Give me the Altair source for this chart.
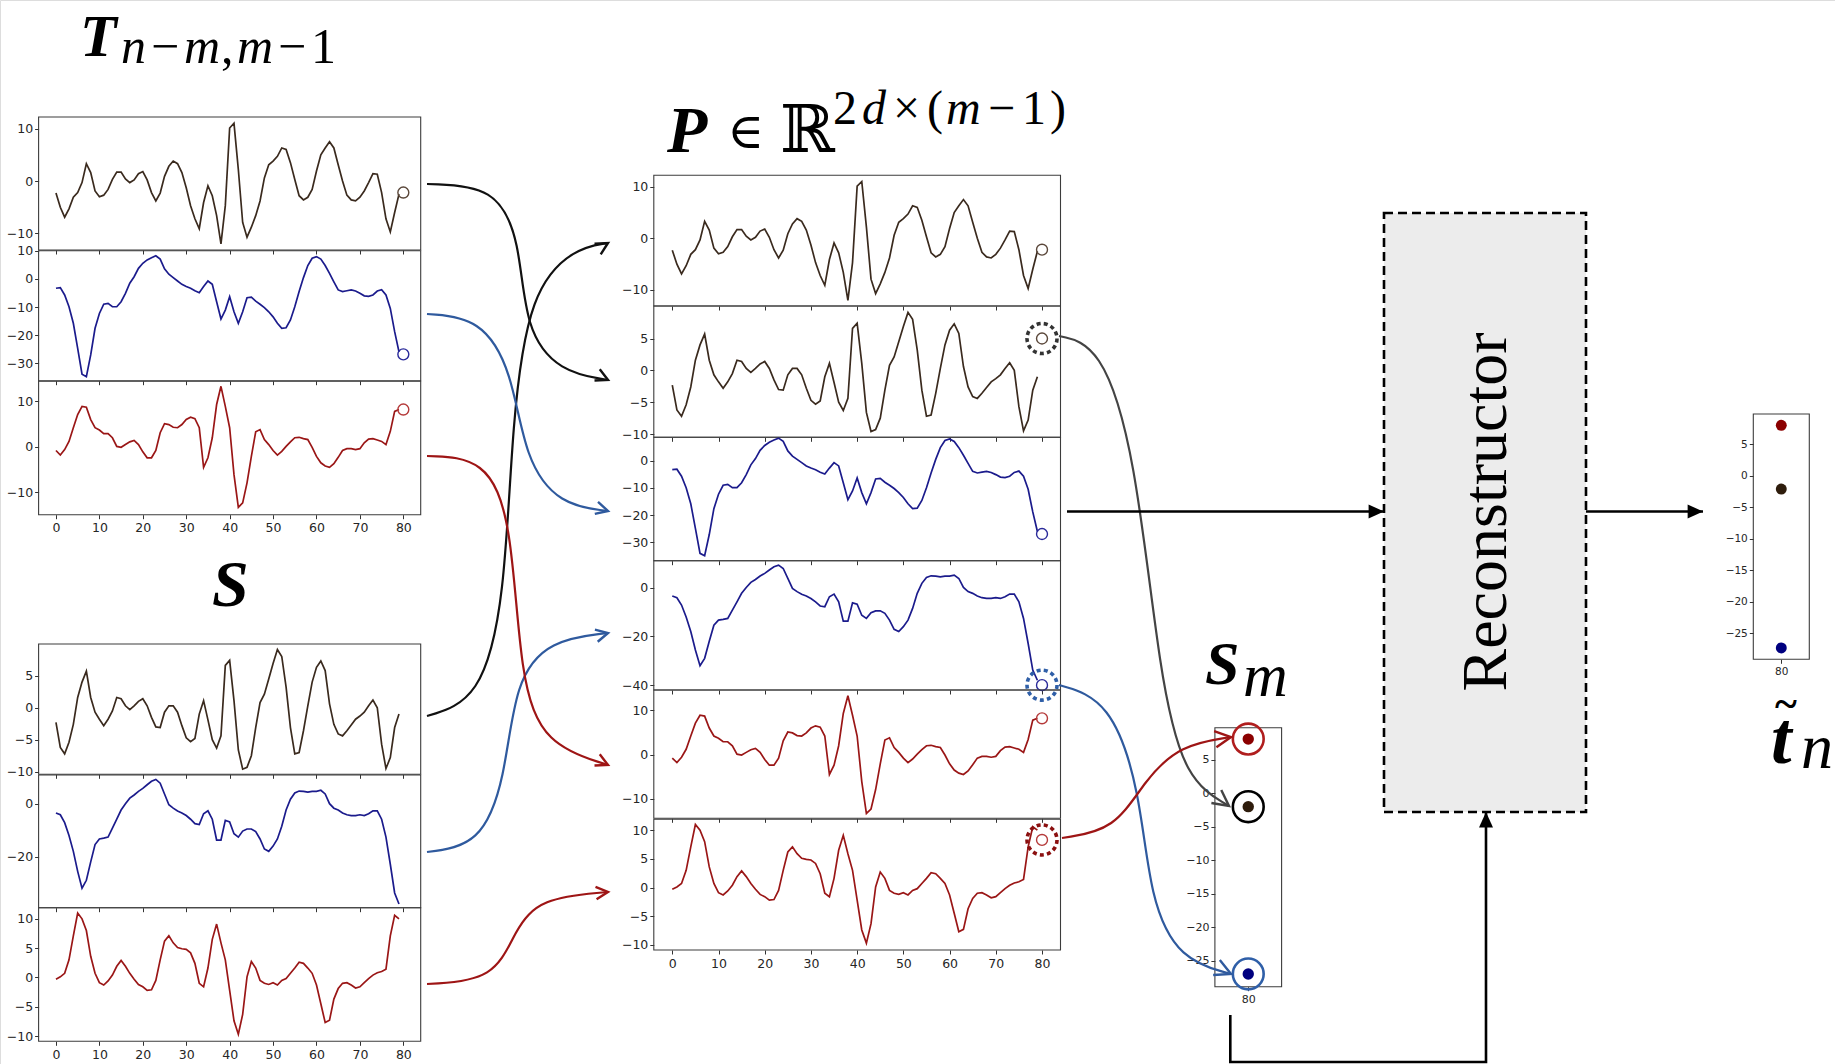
import altair as alt
import pandas as pd

W, H = 1835, 1064

# ---------------- chart values ----------------
X_TICKS = [0, 10, 20, 30, 40, 50, 60, 70, 80]
FORECAST_X = 80

T_BROWN = [-2.3, -5, -6.9, -5.3, -3.1, -2.2, -0.3, 3.3, 1.6, -1.9,
           -3, -2.7, -1.6, 0.3, 1.7, 1.7, 0.4, -0.3, 0.2, 1.4,
           1.8, 0.2, -2.2, -3.8, -2.3, 0.9, 2.8, 3.8, 3.3, 1.6,
           -1.3, -4.7, -7.2, -9.1, -4.1, -0.9, -2.8, -6.6, -12, -4.7,
           10.1, 11, 2.2, -7.9, -10.7, -8.8, -6.6, -3.8, 0.6, 3.1,
           3.8, 4.7, 6.3, 6, 3.5, 0.3, -2.8, -3.6, -3.1, -1.6,
           1.9, 5, 6.3, 7.5, 6.3, 3.1, 0, -2.7, -3.6, -3.8,
           -3.1, -1.9, -0.3, 1.4, 1.3, -2.2, -7.2, -9.7, -6, -2.5]
T_BLUE = [-3.3, -3.1, -5.7, -9.9, -15.8, -24.8, -34, -34.9, -27.1, -17.6,
          -12.3, -9, -8.7, -9.9, -9.9, -8.1, -5.1, -1.5, 0.8, 3.8,
          5.6, 6.8, 7.6, 8.3, 7.1, 3.6, 1.7, 0.5, -0.7, -1.9,
          -2.7, -3.3, -4.2, -4.9, -2.7, -0.7, -1.9, -8.1, -14.3, -11.1,
          -6.3, -11.7, -15.8, -11.7, -6.7, -6.5, -7.9, -9, -10.2, -11.7,
          -13.5, -15.8, -17.6, -17.4, -14.6, -9.9, -4.5, 0.5, 4.8, 7.4,
          8, 7.1, 4.8, 2, -1, -3.9, -4.5, -4.2, -3.9, -4.3,
          -5.1, -6, -6.2, -5.7, -4.3, -3.8, -5.7, -10.5, -18.8, -26]
T_RED = [-0.8, -1.8, -0.6, 1.2, 4.2, 7.1, 8.9, 8.7, 6, 4.2,
         3.7, 2.9, 2.9, 2, 0.1, -0.1, 0.5, 1.1, 1.4, 0.5,
         -1.1, -2.4, -2.4, -0.8, 3.1, 5.1, 4.9, 4.3, 4.2, 4.9,
         6, 6.5, 6.2, 4.2, -4.5, -2.4, 2, 9.3, 13.3, 8.9,
         4.2, -6.1, -13.3, -12.3, -7.9, -2.1, 3.3, 3.8, 1.6, 0.5,
         -0.8, -1.8, -1, 0.1, 1.1, 2, 2.1, 1.8, 1.6, -0.1,
         -2.1, -3.5, -4.2, -4.5, -3.7, -2.3, -0.8, -0.4, -0.4, -0.6,
         -0.4, 0.9, 1.7, 1.8, 1.5, 1.2, 0.5, 3.4, 7.8, 8.2]
T_LAST = {"brown": -2.2, "blue": -26.9, "red": 8.2}

S_BROWN = [-2.3, -6.2, -7.2, -5.4, -2.6, 1.6, 4.0, 5.7, 1.6, -0.7,
           -1.8, -2.8, -1.8, -0.5, 1.6, 1.4, 0.3, -0.3, 0.3, 1.0,
           1.4, 0.3, -1.5, -3.0, -3.1, -0.7, 0.3, 0.3, -0.7, -2.8,
           -4.7, -5.3, -4.8, -1.0, 1.1, -1.9, -5.0, -6.3, -4.4, 6.6,
           7.4, 1.1, -6.6, -9.6, -9.3, -7.5, -3.1, 0.8, 2.1, 4.5,
           6.9, 9.1, 8.0, 3.2, -3.1, -7.2, -7.0, -3.6, 0.3, 4.0,
           6.3, 7.3, 5.8, 0.6, -2.6, -4.1, -4.4, -3.6, -2.7, -1.8,
           -1.3, -0.7, 0.3, 1.2, 0.0, -5.7, -9.5, -7.8, -3.1, -1.0]
S_BLUE = [-3.4, -4.1, -7.1, -12, -18, -25.6, -32, -29, -22, -15.4,
          -13.3, -13, -12.6, -9.2, -5.8, -2.3, 0.1, 2.2, 3.4, 4.8,
          5.9, 7.3, 8.6, 9.3, 7.9, 3.8, -0.3, -1.6, -2.7, -3.4,
          -4.4, -5.8, -7.5, -7.8, -3.7, -2.6, -5.8, -13.7, -13.7, -6.2,
          -6.8, -11.3, -12.6, -10.3, -9.5, -9.5, -10.5, -13.3, -17.1, -18,
          -16, -13.3, -8.5, -2.3, 1.8, 4.2, 4.9, 4.8, 4.5, 4.8,
          4.8, 5.2, 3.8, 0.1, -1.6, -2.3, -3.4, -4.1, -4.4, -4.4,
          -4.1, -4.4, -3.7, -2.6, -2.6, -5.8, -12.6, -22.9, -33.8, -38]
S_RED = [-0.3, 0.1, 0.7, 3, 7.1, 11, 10, 8, 3.6, 0.7,
         -0.9, -1.3, -0.6, 0.4, 1.9, 2.9, 1.9, 0.7, -0.3, -1.2,
         -1.6, -2.2, -2.1, -0.5, 3, 6.2, 7.1, 5.9, 5.1, 4.9,
         4.8, 4.2, 2.4, -1, -1.6, 1.6, 6.5, 9.1, 5.9, 3,
         -2.2, -7.4, -9.7, -6.3, 0.1, 2.7, 1.6, -0.5, -1, -1.2,
         -0.9, -1.3, -0.5, -0.2, 0.7, 1.6, 2.6, 2.4, 1.6, 0.7,
         -1.3, -4.5, -7.7, -7.3, -3.7, -1.9, -1, -0.9, -1.3, -1.8,
         -1.6, -0.9, -0.2, 0.4, 0.8, 1, 1.4, 7.1, 10.6, 10]
S_PRED = {"brown": 5.0, "blue": -40.0, "red": 8.3}

SM_KEYS = ["red", "brown", "blue"]
SM_VALUES = [8.1, -2.0, -27.0]
TN_VALUES = [8.0, -2.1, -27.3]

Y_TICKS_SMALL = [5, 0, -5, -10, -15, -20, -25]

# ---------------- styles ----------------
COL = {"brown": "#3a2a1e", "blue": "#1b1b8c", "red": "#9a1616"}
END_COL = {"brown": "#5a473a", "blue": "#2a2a9a", "red": "#b53a3a"}
DOT_COL = {"red": "#8b0000", "brown": "#2e1c0c", "blue": "#00007f"}
RING_COL = {"red": "#b01e1e", "brown": "#000000", "blue": "#2f5fa8"}
DASH_RING = {"brown": "#333333", "blue": "#2f5fa8", "red": "#8b1010"}
ARROW_COL = {"black": "#111111", "blue": "#2f5a9e", "red": "#9e1515", "grey": "#444444"}
AX_FONT = "DejaVu Sans"
SERIF = "Liberation Serif, DejaVu Serif, serif"

# ---------------- layout (pixel geometry) ----------------
LEFT_X = [38.6, 420.7]
MID_X = [653.8, 1060.5]
XDOM = [-4, 84]

PANELS = [
    dict(s=T_BROWN, xr=LEFT_X, yr=[117, 250], dom=[-13.15, 12.2], yt=[-10, 0, 10], c="brown", end=T_LAST["brown"], ring=False, lab=False),
    dict(s=T_BLUE, xr=LEFT_X, yr=[250.7, 380.7], dom=[-36.3, 10.1], yt=[-30, -20, -10, 0, 10], c="blue", end=T_LAST["blue"], ring=False, lab=False),
    dict(s=T_RED, xr=LEFT_X, yr=[381.3, 514.7], dom=[-14.9, 14.4], yt=[-10, 0, 10], c="red", end=T_LAST["red"], ring=False, lab=True),
    dict(s=S_BROWN, xr=LEFT_X, yr=[644, 774.3], dom=[-10.4, 9.95], yt=[-10, -5, 0, 5], c="brown", end=None, ring=False, lab=False),
    dict(s=S_BLUE, xr=LEFT_X, yr=[775, 907.7], dom=[-39.4, 11], yt=[-20, 0], c="blue", end=None, ring=False, lab=False),
    dict(s=S_RED, xr=LEFT_X, yr=[907.7, 1041.3], dom=[-10.9, 11.9], yt=[-10, -5, 0, 5, 10], c="red", end=None, ring=False, lab=True),
    dict(s=T_BROWN, xr=MID_X, yr=[175.3, 306], dom=[-13.1, 12.2], yt=[-10, 0, 10], c="brown", end=T_LAST["brown"], ring=False, lab=False),
    dict(s=S_BROWN, xr=MID_X, yr=[306, 437.3], dom=[-10.5, 10.1], yt=[-10, -5, 0, 5], c="brown", end=S_PRED["brown"], ring=True, lab=False),
    dict(s=T_BLUE, xr=MID_X, yr=[437.3, 560.7], dom=[-36.7, 8.6], yt=[-30, -20, -10, 0], c="blue", end=T_LAST["blue"], ring=False, lab=False),
    dict(s=S_BLUE, xr=MID_X, yr=[560.7, 690], dom=[-42, 11.1], yt=[-40, -20, 0], c="blue", end=S_PRED["blue"], ring=True, lab=False),
    dict(s=T_RED, xr=MID_X, yr=[690, 818.3], dom=[-14.4, 14.6], yt=[-10, 0, 10], c="red", end=T_LAST["red"], ring=False, lab=False),
    dict(s=S_RED, xr=MID_X, yr=[819.3, 950], dom=[-10.9, 11.9], yt=[-10, -5, 0, 5, 10], c="red", end=S_PRED["red"], ring=True, lab=True),
]
PANEL_FS = 12.5

SM_GEOM = dict(xr=[1214.9, 1281.6], yr=[727.7, 986.7], dom=[-28.9, 9.8])
TN_GEOM = dict(xr=[1753.3, 1809.3], yr=[414, 659.3], dom=[-29.1, 9.8])
DOT_XDOM = [78, 82]


def axis_pair(xr, yr, xvals, yvals, lab, fs):
    common = dict(title=None, grid=False, domain=False, tickSize=4, tickColor="#333333",
                  tickWidth=1, labelColor="#262626", labelFont=AX_FONT, labelFontSize=fs,
                  labelFlush=False, labelOverlap=False)
    xa = alt.Axis(orient="bottom", offset=yr[1] - H, values=xvals, labels=lab,
                  labelPadding=3, **common)
    ya = alt.Axis(orient="left", offset=-xr[0], values=yvals, labelPadding=2, **common)
    return xa, ya


def make_panel(p):
    xs = alt.Scale(domain=XDOM, range=p["xr"], nice=False, zero=False)
    ys = alt.Scale(domain=p["dom"], range=[p["yr"][1], p["yr"][0]], nice=False, zero=False)
    xa, ya = axis_pair(p["xr"], p["yr"], X_TICKS, p["yt"], p["lab"], PANEL_FS)
    layers = []
    frame_df = pd.DataFrame({"x1": [XDOM[0]], "x2": [XDOM[1]], "y1": [p["dom"][0]], "y2": [p["dom"][1]]})
    layers.append(
        alt.Chart(frame_df).mark_rect(fill="transparent", stroke="#3c3c3c", strokeWidth=1.1).encode(
            x=alt.X("x1:Q", scale=xs, axis=xa), x2="x2:Q",
            y=alt.Y("y1:Q", scale=ys, axis=ya), y2="y2:Q")
    )
    line_df = pd.DataFrame({"x": list(range(len(p["s"]))), "y": p["s"]})
    layers.append(
        alt.Chart(line_df).mark_line(color=COL[p["c"]], strokeWidth=1.7).encode(
            x=alt.X("x:Q", scale=xs, axis=xa), y=alt.Y("y:Q", scale=ys, axis=ya))
    )
    if p["end"] is not None:
        end_df = pd.DataFrame({"x": [FORECAST_X], "y": [p["end"]]})
        if p["ring"]:
            layers.append(
                alt.Chart(end_df).mark_point(shape="circle", filled=False, size=900, opacity=1,
                                             color=DASH_RING[p["c"]], strokeWidth=3.6,
                                             strokeDash=[4, 3.2]).encode(
                    x=alt.X("x:Q", scale=xs, axis=xa), y=alt.Y("y:Q", scale=ys, axis=ya))
            )
        layers.append(
            alt.Chart(end_df).mark_point(shape="circle", filled=False, size=120, opacity=1,
                                         color=END_COL[p["c"]], strokeWidth=1.4).encode(
                x=alt.X("x:Q", scale=xs, axis=xa), y=alt.Y("y:Q", scale=ys, axis=ya))
        )
    return alt.layer(*layers)


def make_dot_panel(g, values, rings, fs, dot_size):
    xs = alt.Scale(domain=DOT_XDOM, range=g["xr"], nice=False, zero=False)
    ys = alt.Scale(domain=g["dom"], range=[g["yr"][1], g["yr"][0]], nice=False, zero=False)
    xa, ya = axis_pair(g["xr"], g["yr"], [FORECAST_X], Y_TICKS_SMALL, True, fs)
    frame_df = pd.DataFrame({"x1": [DOT_XDOM[0]], "x2": [DOT_XDOM[1]], "y1": [g["dom"][0]], "y2": [g["dom"][1]]})
    df = pd.DataFrame({"x": [FORECAST_X] * len(values), "y": values,
                       "dot": [DOT_COL[k] for k in SM_KEYS], "ring": [RING_COL[k] for k in SM_KEYS]})
    layers = [
        alt.Chart(frame_df).mark_rect(fill="transparent", stroke="#3c3c3c", strokeWidth=1.1).encode(
            x=alt.X("x1:Q", scale=xs, axis=xa), x2="x2:Q",
            y=alt.Y("y1:Q", scale=ys, axis=ya), y2="y2:Q")
    ]
    if rings:
        layers.append(
            alt.Chart(df).mark_point(shape="circle", filled=False, size=950, opacity=1, strokeWidth=2.6).encode(
                x=alt.X("x:Q", scale=xs, axis=xa), y=alt.Y("y:Q", scale=ys, axis=ya),
                color=alt.Color("ring:N", scale=None))
        )
    layers.append(
        alt.Chart(df).mark_point(shape="circle", filled=True, size=dot_size, opacity=1).encode(
            x=alt.X("x:Q", scale=xs, axis=xa), y=alt.Y("y:Q", scale=ys, axis=ya),
            color=alt.Color("dot:N", scale=None))
    )
    return alt.layer(*layers)


# ---------------- diagram canvas (connectors, box, labels) ----------------
CX = alt.Scale(domain=[0, W], range=[0, W], nice=False, zero=False)
CY = alt.Scale(domain=[0, H], range=[0, H], nice=False, zero=False)

CURVES = [
    ("a", "black", [(427, 184), (495, 186), (520, 240), (525, 330), (560, 372), (608, 380)]),
    ("b", "black", [(427, 716), (480, 700), (505, 600), (512, 420), (530, 290), (575, 248), (608, 243)]),
    ("c", "blue", [(427, 314), (480, 318), (512, 370), (525, 460), (560, 505), (608, 511)]),
    ("d", "blue", [(427, 852), (480, 845), (505, 780), (515, 680), (550, 640), (608, 633)]),
    ("e", "red", [(427, 456), (485, 458), (512, 520), (520, 680), (545, 745), (608, 765)]),
    ("f", "red", [(427, 984), (495, 980), (515, 930), (540, 898), (608, 892)]),
    ("g", "grey", [(1059, 336), (1100, 345), (1135, 450), (1160, 680), (1185, 780), (1229, 806)]),
    ("h", "blue", [(1059, 685), (1110, 700), (1140, 790), (1150, 900), (1180, 960), (1231, 974)]),
    ("i", "red", [(1062, 838), (1115, 830), (1145, 780), (1180, 745), (1231, 737)]),
]
CURVE_HEADS = [
    (608, 380, 25, "black", 400), (608, 243, 330, "black", 400), (608, 511, 15, "blue", 400),
    (608, 633, 347, "blue", 400), (608, 765, 25, "red", 400), (608, 892, 355, "red", 400),
    (1229, 806, 37, "grey", 700), (1231, 974, 24, "blue", 700), (1231, 737, 352, "red", 700),
]
STRAIGHT = [
    ("p2r", [(1067, 511.5), (1384, 511.5)]),
    ("r2t", [(1586, 511.5), (1703, 511.5)]),
    ("s2r", [(1230.3, 1015), (1230.3, 1062), (1486, 1062), (1486, 812)]),
]
STRAIGHT_HEADS = [(1384, 511.5, 0), (1703, 511.5, 0), (1486, 812, 270)]
BOX = dict(x1=1384, x2=1586, y1=213, y2=812)

# math labels split into glyph runs: (text, x, baseline y, font size)
TXT_BOLD_ITALIC = [("T", 80, 56, 60), ("P", 667, 152, 66), ("S", 212, 606, 66),
                   ("S", 1205, 684, 62), ("t", 1771, 763, 74)]
TXT_ITALIC = [("n", 121, 63, 50), ("m", 184, 63, 50), ("m", 237, 63, 50),
              ("d", 862, 124, 48), ("m", 946, 124, 48),
              ("m", 1243, 696, 62), ("n", 1801, 768, 64)]
TXT_REGULAR = [("−", 151, 63, 50), (",", 221, 63, 50), ("−", 278, 63, 50), ("1", 311, 63, 50),
               ("∈", 727, 148, 50), ("ℝ", 780, 152, 66),
               ("2", 833, 124, 48), ("×", 893, 124, 48), ("(", 927, 124, 48),
               ("−", 988, 124, 48), ("1", 1022, 124, 48), (")", 1050, 124, 48)]
TILDE = [("~", 1786, 718, 42)]
BOX_LABEL = [("Reconstructor", 1487, 512, 64)]

CHEVRON = "M -1.2 -0.62 L 0 0 L -1.2 0.62"
TRIANGLE = "M 0 0 L -1.1 -0.5 L -1.1 0.5 Z"


def cxy(xf="x", yf="y"):
    return dict(x=alt.X(f"{xf}:Q", scale=CX, axis=None), y=alt.Y(f"{yf}:Q", scale=CY, axis=None))


box_df = pd.DataFrame([BOX])
box = alt.Chart(box_df).mark_rect(fill="#ececec", stroke="#000000", strokeWidth=2.6,
                                  strokeDash=[9, 5]).encode(
    x=alt.X("x1:Q", scale=CX, axis=None), x2="x2:Q",
    y=alt.Y("y1:Q", scale=CY, axis=None), y2="y2:Q")

curve_rows = []
for cid, col, pts in CURVES:
    for i, (x, y) in enumerate(pts):
        curve_rows.append({"id": cid, "o": i, "x": x, "y": y, "col": ARROW_COL[col]})
curves = alt.Chart(pd.DataFrame(curve_rows)).mark_line(interpolate="basis", strokeWidth=2.2).encode(
    **cxy(), detail="id:N", order="o:Q", color=alt.Color("col:N", scale=None))

head_df = pd.DataFrame([{"x": x, "y": y, "a": a, "col": ARROW_COL[c], "sz": s}
                        for x, y, a, c, s in CURVE_HEADS])
curve_heads = alt.Chart(head_df).mark_point(shape=CHEVRON, filled=False, strokeWidth=2.4, opacity=1).encode(
    **cxy(), angle=alt.Angle("a:Q", scale=None), color=alt.Color("col:N", scale=None),
    size=alt.Size("sz:Q", scale=None))

str_rows = []
for sid, pts in STRAIGHT:
    for i, (x, y) in enumerate(pts):
        str_rows.append({"id": sid, "o": i, "x": x, "y": y})
straight = alt.Chart(pd.DataFrame(str_rows)).mark_line(color="#000000", strokeWidth=2.6).encode(
    **cxy(), detail="id:N", order="o:Q")
sh_df = pd.DataFrame([{"x": x, "y": y, "a": a} for x, y, a in STRAIGHT_HEADS])
straight_heads = alt.Chart(sh_df).mark_point(shape=TRIANGLE, filled=True, size=784, color="#000000",
                                             opacity=1).encode(
    **cxy(), angle=alt.Angle("a:Q", scale=None))


def text_layer(rows, **style):
    df = pd.DataFrame(rows, columns=["t", "x", "y", "fs"])
    return alt.Chart(df).mark_text(font=SERIF, color="#000000", **style).encode(
        **cxy(), text="t:N", size=alt.Size("fs:Q", scale=None))


texts = [
    text_layer(TXT_BOLD_ITALIC, align="left", baseline="alphabetic", fontStyle="italic", fontWeight="bold"),
    text_layer(TXT_ITALIC, align="left", baseline="alphabetic", fontStyle="italic"),
    text_layer(TXT_REGULAR, align="left", baseline="alphabetic"),
    text_layer(TILDE, align="center", baseline="alphabetic", fontWeight="bold"),
    text_layer(BOX_LABEL, align="center", baseline="middle", angle=270),
]

background = alt.layer(box)
foreground = alt.layer(curves, curve_heads, straight, straight_heads, *texts)

panel_layers = [make_panel(p) for p in PANELS]
panel_layers.append(make_dot_panel(SM_GEOM, SM_VALUES, True, 11, 130))
panel_layers.append(make_dot_panel(TN_GEOM, TN_VALUES, False, 10.5, 120))

chart = alt.layer(background, *panel_layers, foreground).resolve_scale(
    x="independent", y="independent"
).properties(
    width=W, height=H, autosize=alt.AutoSizeParams(type="none"), padding=0
).configure_view(stroke=None).configure(background="white")

chart.save("out.html", embed_options={"renderer": "svg", "actions": False})
